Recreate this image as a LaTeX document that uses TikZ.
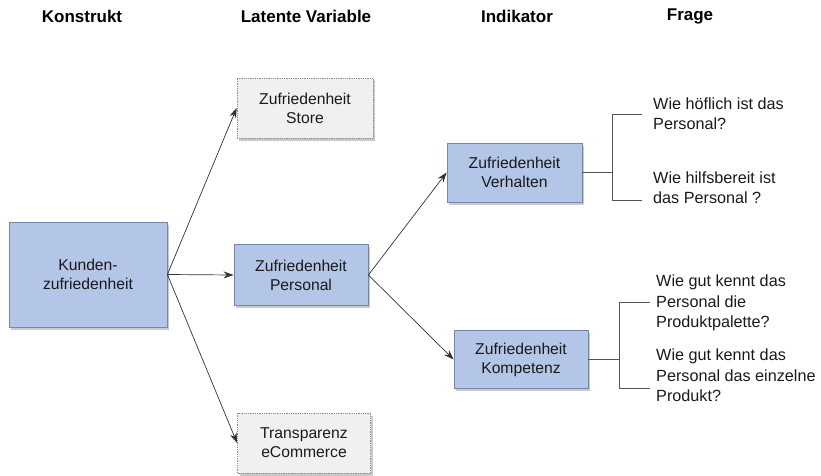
\documentclass[tikz,border=0pt]{standalone}
\usepackage{fontspec}
\setmainfont{Liberation Sans}
\usetikzlibrary{shadows,arrows.meta}
\definecolor{boxblue}{HTML}{B4C6E7}
\definecolor{boxblueborder}{HTML}{7387AC}
\definecolor{boxgray}{HTML}{F0F0F0}
\definecolor{boxgrayborder}{HTML}{8C8C8C}
\definecolor{txt}{HTML}{1A1A1A}
\definecolor{linec}{HTML}{333333}
\definecolor{bracketc}{HTML}{555555}
\tikzset{
  shadowed/.style={drop shadow={shadow xshift=2pt,shadow yshift=-2.5pt,opacity=0.35,fill=black!60}},
  bluebox/.style={draw=boxblueborder,fill=boxblue,line width=0.8pt,shadowed,align=center,text=txt,
    font=\fontsize{15.7}{19}\selectfont,inner sep=0pt},
  graybox/.style={draw=boxgrayborder,fill=boxgray,densely dotted,line width=0.8pt,shadowed,align=center,text=txt,
    font=\fontsize{15.7}{19}\selectfont,inner sep=0pt},
  header/.style={font=\fontsize{17}{20}\selectfont\bfseries,text=black,inner sep=0pt},
  question/.style={anchor=west,align=left,text=txt,font=\fontsize{16.2}{20.5}\selectfont,inner sep=0pt},
  arr/.style={draw=linec,line width=0.7pt,-{Stealth[length=10pt,width=7pt]}},
  brk/.style={draw=bracketc,line width=0.8pt},
}
\begin{document}
\begin{tikzpicture}[x=1pt,y=-1pt]
\useasboundingbox (0,0) rectangle (821,476);
% headers
\node[header] (h1) at (82,16) {Konstrukt};
\node[header] (h2) at (306,16) {Latente Variable};
\node[header] (h3) at (517,16) {Indikator};
\node[header] (h4) at (690,16) {Frage};
% boxes
\node[bluebox,minimum width=158pt,minimum height=105pt] (kz) at (88,274.5) {Kunden-\\zufriedenheit};
\node[graybox,minimum width=136pt,minimum height=60pt] (st) at (305,108) {Zufriedenheit\\Store};
\node[bluebox,minimum width=134pt,minimum height=61pt] (pe) at (301,275) {Zufriedenheit\\Personal};
\node[graybox,minimum width=133pt,minimum height=60pt] (te) at (304,443) {Transparenz\\eCommerce};
\node[bluebox,minimum width=135pt,minimum height=59pt] (ve) at (514.5,172.5) {Zufriedenheit\\Verhalten};
\node[bluebox,minimum width=134pt,minimum height=58pt] (ko) at (521,359.5) {Zufriedenheit\\Kompetenz};
% arrows
\draw[arr] (kz.east) -- (st.west);
\draw[arr] (kz.east) -- (pe.west);
\draw[arr] (kz.east) -- (te.west);
\draw[arr] (pe.east) -- (ve.west);
\draw[arr] (pe.east) -- (ko.west);
% questions
\node[question] (q1) at (653,113.5) {Wie höflich ist das\\Personal?};
\node[question] (q2) at (653,187.5) {Wie hilfsbereit ist\\das Personal ?};
\node[question] (q3) at (656,303) {Wie gut kennt das\\Personal die\\Produktpalette?};
\node[question] (q4) at (656,375.5) {Wie gut kennt das\\Personal das einzelne\\Produkt?};
% brackets
\coordinate (b1) at (612,172.5);
\coordinate (b1t) at (612,114);
\coordinate (b1b) at (612,200);
\coordinate (b1te) at (642,114);
\coordinate (b1be) at (642,200);
\draw[brk] (ve.east) -- (b1);
\draw[brk] (b1te) -- (b1t) -- (b1b) -- (b1be);
\coordinate (b2) at (619,359.5);
\coordinate (b2t) at (619,302);
\coordinate (b2b) at (619,388);
\coordinate (b2te) at (650,302);
\coordinate (b2be) at (650,388);
\draw[brk] (ko.east) -- (b2);
\draw[brk] (b2te) -- (b2t) -- (b2b) -- (b2be);
\end{tikzpicture}
\end{document}
